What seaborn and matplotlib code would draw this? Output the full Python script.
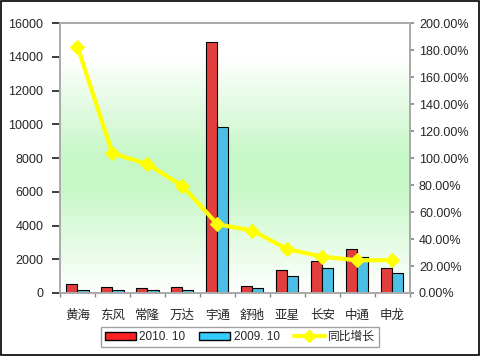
import numpy as np
import pandas as pd
import matplotlib
matplotlib.use('Agg')
import matplotlib.pyplot as plt
from matplotlib.colors import LinearSegmentedColormap
from matplotlib.patches import Rectangle
from matplotlib.lines import Line2D
import seaborn as sns

# dữ liệu
brands = ['黄海', '东风', '常隆', '万达', '宇通', '舒驰', '亚星', '长安', '中通', '申龙']
sales_2010 = [530, 340, 280, 340, 14900, 400, 1340, 1890, 2600, 1460]
sales_2009 = [170, 170, 160, 170, 9850, 280, 990, 1460, 2110, 1170]
growth = [182.5, 103.5, 95.6, 79.3, 50.9, 46.2, 32.4, 26.9, 24.2, 24.4]

sns.set_theme(style='white')
plt.rcParams['font.family'] = ['Liberation Sans', 'Noto Sans CJK SC']

df = pd.DataFrame({'brand': brands, '2010.10': sales_2010, '2009.10': sales_2009})
bars = pd.melt(df, id_vars='brand', value_vars=['2010.10', '2009.10'],
               var_name='month', value_name='count')

fig = plt.figure(figsize=(4.8, 3.56), dpi=100)
ax = fig.add_axes([0.125, 0.177, 0.729, 0.758])

# nền gradient trắng -> xanh lá -> trắng
cmap = LinearSegmentedColormap.from_list('bg', [(0, '#ffffff'), (0.12, '#ffffff'),
                                                 (0.5, '#c6f7c6'), (0.62, '#c8f8c8'),
                                                 (1, '#ffffff')])
grad = np.linspace(0, 1, 256).reshape(-1, 1)
ax.imshow(grad, extent=[0, 1, 0, 1], transform=ax.transAxes, aspect='auto',
          cmap=cmap, origin='upper', zorder=0)

sns.barplot(data=bars, x='brand', y='count', hue='month', ax=ax, width=0.63,
            palette=['#ff2222', '#33ccff'], edgecolor='black', linewidth=0.8,
            legend=False, zorder=2)
ax.set_xlim(-0.5, len(brands) - 0.5)
ax.set_ylim(0, 16000)
ax.set_yticks(range(0, 16001, 2000))
ax.set_xlabel('')
ax.set_ylabel('')
ax.tick_params(axis='y', labelsize=9, pad=6)
ax.tick_params(axis='x', labelsize=9, pad=6)
ax.set_xticks(np.arange(-0.5, len(brands), 1), minor=True)
ax.tick_params(axis='x', which='minor', length=3, color='#888888', bottom=True)
for s in ax.spines.values():
    s.set_color('#aaaaaa')

ax2 = ax.twinx()
sns.lineplot(x=np.arange(len(brands)), y=growth, ax=ax2, color='#ffff00',
             linewidth=3, marker='D', markersize=7, markeredgecolor='#ffff00')
ax2.set_ylim(0, 200)
ax2.set_yticks(range(0, 201, 20))
ax2.set_yticklabels([f'{v}.00%' for v in range(0, 201, 20)])
ax2.tick_params(axis='y', labelsize=9, length=3, color='#888888', right=True)
ax2.grid(False)
for s in ax2.spines.values():
    s.set_color('#aaaaaa')

handles = [Rectangle((0, 0), 1, 1, facecolor='#ff2222', edgecolor='black'),
           Rectangle((0, 0), 1, 1, facecolor='#33ccff', edgecolor='black'),
           Line2D([], [], color='#ffff00', linewidth=3, marker='D', markersize=6)]
leg = fig.legend(handles, ['2010. 10', '2009. 10', '同比增长'], loc='lower center',
                 bbox_to_anchor=(0.5, 0.01), ncol=3, fontsize=8.5, frameon=True,
                 fancybox=False, edgecolor='#888888', handlelength=2.6,
                 handletextpad=0.3, columnspacing=1.2, borderpad=0.3)

fig.patches.append(Rectangle((0.003, 0.004), 0.994, 0.992, transform=fig.transFigure,
                             fill=False, edgecolor='black', linewidth=1.2))

fig.savefig('out.png', dpi=100)
